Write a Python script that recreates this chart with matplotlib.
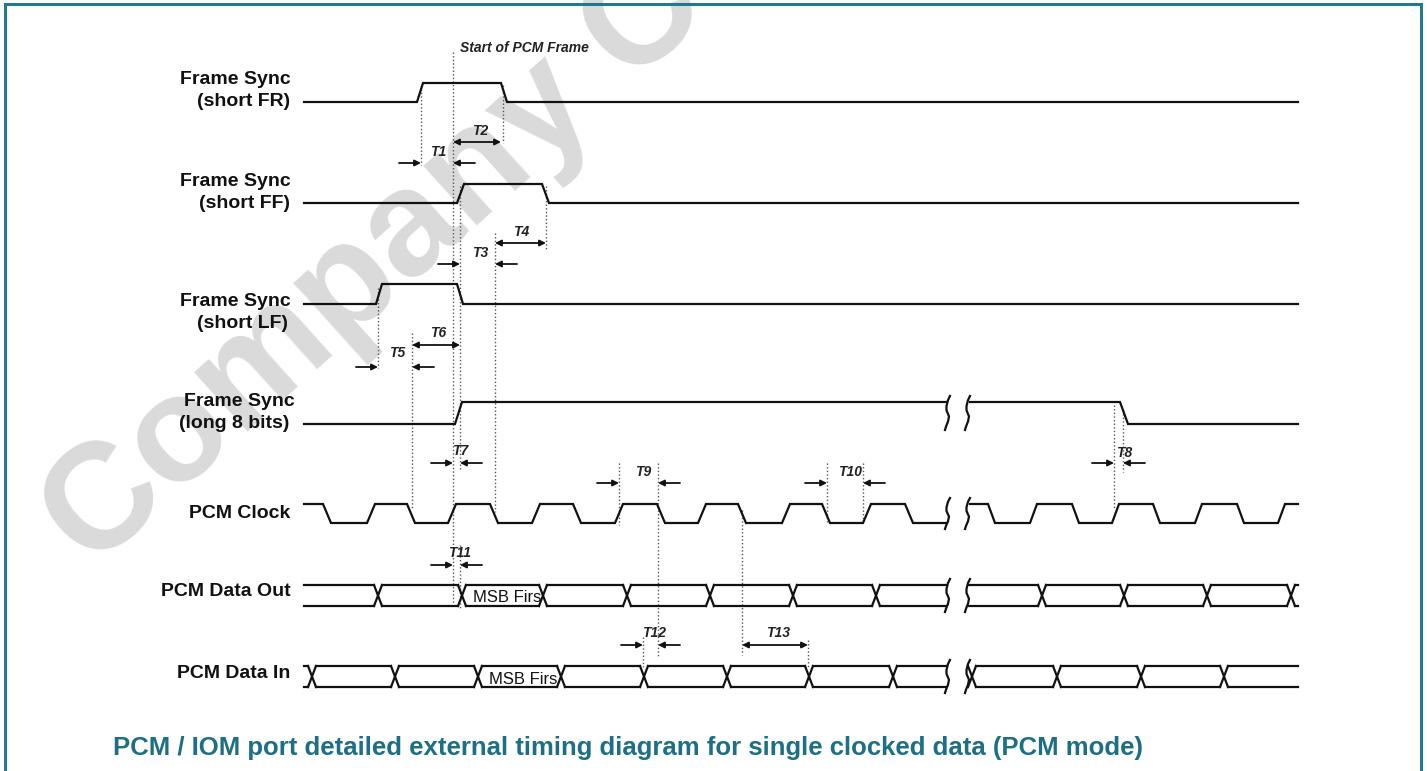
import numpy as np
import matplotlib
matplotlib.use("Agg")
import matplotlib.pyplot as plt

# ---- layout of the page (pixel space of the original screenshot) ----
W, H = 1427, 771
X_START, X_END = 304, 1298          # where every trace begins / ends
BREAK_A, BREAK_B = 946, 966          # the two "cut" squiggles

# ---- row labels: (text, x of right edge, y centre) ----
label_text = ["Frame Sync", "(short FR)", "Frame Sync", "(short FF)",
              "Frame Sync", "(short LF)", "Frame Sync", "(long 8 bits)",
              "PCM Clock", "PCM Data Out", "PCM Data In"]
label_x = [291, 290, 291, 290, 291, 288, 295, 289, 290, 291, 290]
label_y = [80, 101, 181, 203, 301, 323, 401, 423, 513, 592, 674]

# ---- frame sync edges (start of each transition) ----
fr_edges = [417, 501]
ff_edges = [457, 542]
lf_edges = [376, 457]
long8_edges_a = [455]
long8_edges_b = [1120]

# ---- PCM clock edges, first edge is falling ----
clk_edges_a = [323, 367, 407, 448, 490, 532, 573, 615, 657, 698, 738, 782, 822, 863, 905]
clk_edges_b = [988, 1030, 1072, 1112, 1153, 1195, 1237, 1278]

# ---- data bus crossings ----
dout_cross_a = [378, 462, 543, 627, 710, 793, 876]
dout_cross_b = [1042, 1124, 1207, 1291]
din_cross_a = [312, 395, 478, 561, 644, 727, 809, 893]
din_cross_b = [972, 1057, 1141, 1224]

# ---- signal levels (low y, high y) ----
fr_lv = (102, 83)
ff_lv = (203, 184)
lf_lv = (304, 284)
long8_lv = (424, 402)
clk_lv = (523, 504)
dout_lv = (606, 585)
din_lv = (687, 666)

# ---- dotted guide lines: x, y from, y to ----
guide_x = [453, 421, 503, 460, 546, 495, 378, 412, 460, 619, 658, 827, 863, 742, 643, 808, 1114, 1123]
guide_y0 = [52, 85, 85, 186, 186, 233, 288, 333, 545, 463, 463, 463, 463, 510, 637, 640, 405, 410]
guide_y1 = [608, 165, 143, 470, 250, 512, 368, 508, 608, 525, 657, 522, 522, 655, 667, 667, 508, 472]

# ---- timing parameters ----
# "in" pairs: two arrows pointing at the left and right guide
t_in_names = ["T1", "T3", "T5", "T7", "T8", "T9", "T10", "T11", "T12"]
t_in_left = [421, 460, 378, 453, 1114, 619, 827, 453, 643]
t_in_right = [453, 495, 412, 460, 1123, 658, 863, 460, 658]
t_in_y = [163, 264, 367, 463, 463, 483, 483, 565, 645]
t_in_lab = [(438, 152), (480, 253), (397, 353), (460, 451), (1124, 453),
            (643, 472), (850, 472), (460, 553), (654, 633)]
# span pairs: one double arrow between the guides
t_span_names = ["T2", "T4", "T6", "T13"]
t_span_left = [453, 495, 412, 742]
t_span_right = [501, 546, 460, 808]
t_span_y = [142, 243, 345, 645]
t_span_lab = [(480, 131), (521, 232), (438, 333), (778, 633)]

INK = "#111111"
LW = 1.6


def wave(ax, x0, x1, start_high, edges, lv, slope):
    lo, hi = lv
    level = start_high
    xs, ys = [x0], [hi if level else lo]
    for e in edges:
        xs += [e, e + slope]
        ys += [hi if level else lo, lo if level else hi]
        level = not level
    xs.append(x1)
    ys.append(hi if level else lo)
    ax.plot(xs, ys, color=INK, lw=LW, solid_joinstyle="miter", zorder=3)


def bus(ax, x0, x1, crossings, lv, hw=4):
    lo, hi = lv
    pts = [x0] + crossings + [x1]
    for i in range(len(pts) - 1):
        a = pts[i] + (hw if i > 0 else 0)
        b = pts[i + 1] - (hw if i + 1 < len(pts) - 1 else 0)
        b = min(b, x1)
        if b > a:
            ax.plot([a, b], [hi, hi], color=INK, lw=LW, zorder=3)
            ax.plot([a, b], [lo, lo], color=INK, lw=LW, zorder=3)
    for c in crossings:
        r = min(c + hw, x1)
        ax.plot([c - hw, r], [hi, hi + (lo - hi) * (r - c + hw) / (2 * hw)], color=INK, lw=LW, zorder=3)
        ax.plot([c - hw, r], [lo, lo - (lo - hi) * (r - c + hw) / (2 * hw)], color=INK, lw=LW, zorder=3)


def squiggle(ax, x, ytop, ybot):
    h = ybot - ytop
    fx = [4, 2, 0.5, 0.5, 3, 2, 0, -1]
    fy = [0, 0.12, 0.3, 0.42, 0.6, 0.75, 0.9, 1.0]
    ax.plot([x + f for f in fx], [ytop + f * h for f in fy], color=INK, lw=LW, zorder=3)


fig = plt.figure(figsize=(W / 100, H / 100), dpi=100)
ax = fig.add_axes([0, 0, 1, 1])
ax.set_xlim(0, W)
ax.set_ylim(H, 0)
ax.axis("off")

# watermark
ax.text(92, 572, "Company Confidential", rotation=42, rotation_mode="anchor",
        ha="left", va="baseline", fontsize=108, fontweight="bold",
        family="Liberation Sans", color="#dadada", zorder=0)

# page frame
teal = "#1f7a8f"
ax.plot([5, 5, 1421, 1421], [H + 5, 4, 4, H + 5], color=teal, lw=2.2, zorder=5,
        solid_joinstyle="miter")

# labels
for t, x, y in zip(label_text, label_x, label_y):
    ax.text(x, y, t, ha="right", va="center", fontsize=14, fontweight="bold",
            family="Liberation Sans", color=INK)

# frame sync traces
wave(ax, X_START, X_END, False, fr_edges, fr_lv, 6)
wave(ax, X_START, X_END, False, ff_edges, ff_lv, 7)
wave(ax, X_START, X_END, False, lf_edges, lf_lv, 6)
wave(ax, X_START, BREAK_A, False, long8_edges_a, long8_lv, 7)
wave(ax, BREAK_B + 4, X_END, True, long8_edges_b, long8_lv, 8)

# clock
wave(ax, X_START, BREAK_A, True, clk_edges_a, clk_lv, 8)
wave(ax, BREAK_B + 4, X_END, True, clk_edges_b, clk_lv, 7)

# data buses
bus(ax, X_START, BREAK_A, dout_cross_a, dout_lv)
bus(ax, BREAK_B + 3, X_END, dout_cross_b, dout_lv)
bus(ax, X_START, BREAK_A, din_cross_a, din_lv)
bus(ax, BREAK_B + 3, X_END, din_cross_b, din_lv)

# cut marks
for lo, hi in [long8_lv, clk_lv, dout_lv, din_lv]:
    top = min(lo, hi) - 6
    bot = max(lo, hi) + 6
    squiggle(ax, BREAK_A, top, bot)
    squiggle(ax, BREAK_B, top, bot)

ax.text(473, 597, "MSB Firs", ha="left", va="center", fontsize=12, family="Liberation Sans", color=INK, zorder=4)
ax.text(489, 679, "MSB Firs", ha="left", va="center", fontsize=12, family="Liberation Sans", color=INK, zorder=4)

# dotted guides
for x, y0, y1 in zip(guide_x, guide_y0, guide_y1):
    ax.plot([x, x], [y0, y1], color="#555555", lw=1.0, ls=(0, (1, 1.6)), zorder=2)

ax.text(460, 48, "Start of PCM Frame", ha="left", va="center", fontsize=10,
        fontweight="bold", style="italic", family="Liberation Sans", color="#222222")

arrow_kw = dict(arrowstyle="-|>", lw=1.3, color=INK, mutation_scale=9, shrinkA=0, shrinkB=0)
for name, xl, xr, y, (lx, ly) in zip(t_in_names, t_in_left, t_in_right, t_in_y, t_in_lab):
    ax.annotate("", xy=(xl, y), xytext=(xl - 22, y), arrowprops=arrow_kw, zorder=4)
    ax.annotate("", xy=(xr, y), xytext=(xr + 22, y), arrowprops=arrow_kw, zorder=4)
    ax.text(lx, ly, name, ha="center", va="center", fontsize=10, fontweight="bold",
            style="italic", family="Liberation Sans", color="#222222")

span_kw = dict(arrowstyle="<|-|>", lw=1.3, color=INK, mutation_scale=9, shrinkA=0, shrinkB=0)
for name, xl, xr, y, (lx, ly) in zip(t_span_names, t_span_left, t_span_right, t_span_y, t_span_lab):
    ax.annotate("", xy=(xr, y), xytext=(xl, y), arrowprops=span_kw, zorder=4)
    ax.text(lx, ly, name, ha="center", va="center", fontsize=10, fontweight="bold",
            style="italic", family="Liberation Sans", color="#222222")

# caption
ax.text(113, 748, "PCM / IOM port detailed external timing diagram for single clocked data (PCM mode)",
        ha="left", va="center", fontsize=18.5, fontweight="bold", family="Liberation Sans",
        color="#1c6f84")

fig.savefig("out.png", dpi=100, facecolor="white")
